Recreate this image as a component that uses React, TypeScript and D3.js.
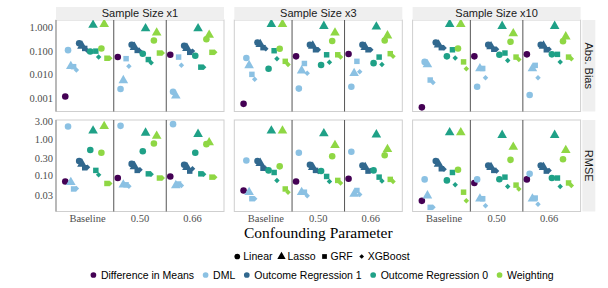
import React, { useEffect, useRef } from "react";
import * as d3 from "d3";

const WIDTH = 608;
const HEIGHT = 288;

const FONT_SERIF = "'Liberation Serif', 'Times New Roman', serif";
const FONT_SANS = "'Liberation Sans', Arial, Helvetica, sans-serif";

const sampleSizes = ["Sample Size x1", "Sample Size x3", "Sample Size x10"];
const metrics = ["Abs. Bias", "RMSE"];
const confounding = ["Baseline", "0.50", "0.66"];
const methods = [
  "Difference in Means",
  "DML",
  "Outcome Regression 1",
  "Outcome Regression 0",
  "Weighting",
];
const learners = ["Linear", "Lasso", "GRF", "XGBoost"];
const methodColors = ["#440154", "#8bc1e3", "#31688e", "#1fa187", "#8fd744"];

const biasTicks = [1, 0.1, 0.01, 0.001];
const rmseTicks = [3, 1, 0.3, 0.1, 0.03];

// each row: Diff in Means, then DML / OR1 / OR0 / Weighting x (Linear, Lasso, GRF, XGBoost)
const absBiasX1 = [
  [0.0012, 0.11, 0.023, 0.022, 0.016, 0.215, 0.167, 0.13, 0.104, 0.097, 1.26, 0.1, 0.056, 0.13, 1.38, 0.05, 0.05],
  [0.056, 0.0025, 0.0058, 0.048, 0.023, 0.185, 0.147, 0.107, 0.1, 0.078, 0.91, 0.044, 0.032, 0.28, 0.6, 0.083, 0.083],
  [0.07, 0.0019, 0.0013, 0.056, 0.025, 0.167, 0.134, 0.089, 0.1, 0.064, 0.91, 0.021, 0.021, 0.32, 0.48, 0.089, 0.089],
];
const absBiasX3 = [
  [0.00059, 0.051, 0.025, 0.0104, 0.0064, 0.23, 0.195, 0.14, 0.126, 0.018, 1.38, 0.104, 0.048, 0.126, 1.38, 0.037, 0.027],
  [0.06, 0.0026, 0.015, 0.03, 0.0115, 0.185, 0.167, 0.114, 0.114, 0.026, 1.14, 0.07, 0.034, 0.27, 0.6, 0.07, 0.056],
  [0.075, 0.0031, 0.0115, 0.037, 0.0134, 0.185, 0.147, 0.114, 0.114, 0.031, 1.07, 0.056, 0.027, 0.28, 0.45, 0.078, 0.06],
];
const absBiasX10 = [
  [0.00042, 0.035, 0.027, 0.006, 0.0047, 0.23, 0.185, 0.14, 0.135, 0.06, 1.38, 0.114, 0.051, 0.13, 1.38, 0.035, 0.018],
  [0.06, 0.0031, 0.0185, 0.0185, 0.0075, 0.185, 0.157, 0.12, 0.12, 0.07, 1.14, 0.083, 0.04, 0.25, 0.56, 0.056, 0.044],
  [0.073, 0.0014, 0.0185, 0.025, 0.0075, 0.185, 0.167, 0.114, 0.12, 0.073, 1.14, 0.073, 0.035, 0.26, 0.41, 0.056, 0.048],
];
const rmseX1 = [
  [0.07, 2.16, 0.067, 0.044, 0.045, 0.25, 0.21, 0.165, 0.17, 0.5, 1.65, 0.14, 0.106, 0.42, 2.2, 0.062, 0.062],
  [0.087, 2.25, 0.057, 0.057, 0.052, 0.21, 0.18, 0.14, 0.145, 0.46, 1.45, 0.113, 0.11, 0.75, 1.2, 0.087, 0.087],
  [0.096, 2.5, 0.055, 0.06, 0.055, 0.2, 0.17, 0.134, 0.155, 0.42, 1.34, 0.113, 0.11, 0.72, 0.8, 0.092, 0.092],
];
const rmseX3 = [
  [0.04, 0.26, 0.036, 0.024, 0.024, 0.25, 0.22, 0.16, 0.155, 0.14, 1.65, 0.123, 0.075, 0.18, 1.65, 0.044, 0.036],
  [0.07, 0.42, 0.036, 0.036, 0.029, 0.2, 0.17, 0.14, 0.13, 0.135, 1.4, 0.096, 0.07, 0.34, 0.67, 0.075, 0.064],
  [0.083, 0.45, 0.032, 0.04, 0.031, 0.19, 0.17, 0.134, 0.14, 0.14, 1.3, 0.092, 0.072, 0.36, 0.52, 0.08, 0.07],
];
const rmseX10 = [
  [0.021, 0.08, 0.029, 0.014, 0.014, 0.25, 0.21, 0.155, 0.15, 0.075, 1.48, 0.123, 0.057, 0.146, 1.48, 0.036, 0.021],
  [0.064, 0.08, 0.024, 0.024, 0.0155, 0.19, 0.17, 0.14, 0.135, 0.081, 1.26, 0.092, 0.051, 0.27, 0.6, 0.056, 0.044],
  [0.08, 0.113, 0.024, 0.025, 0.017, 0.19, 0.17, 0.134, 0.14, 0.087, 1.26, 0.087, 0.051, 0.28, 0.49, 0.064, 0.055],
];

const values = [
  [absBiasX1, absBiasX3, absBiasX10],
  [rmseX1, rmseX3, rmseX10],
];

// estimator order inside each dodge group
const estimators = [
  { method: 0, learner: 0 },
  ...methods.slice(1).flatMap((_, m) => learners.map((_, l) => ({ method: m + 1, learner: l }))),
];

function symbolPath(learner: number, scale = 1) {
  if (learner === 1) return d3.symbol(d3.symbolTriangle, 40 * scale)()!;
  if (learner === 2) return d3.symbol(d3.symbolSquare, 30 * scale)()!;
  if (learner === 3) return d3.symbol(d3.symbolSquare, 15 * scale)()!;
  return d3.symbol(d3.symbolCircle, 34 * scale)()!;
}

export default function App() {
  const ref = useRef<SVGSVGElement>(null);

  useEffect(() => {
    const svg = d3.select(ref.current);
    svg.selectAll("*").remove();

    const panelLeft = 56;
    const panelW = 168;
    const gapX = 10.3;
    const rowTops = [20, 120];
    const panelH = 91.5;
    const stripH = 13;

    const n = estimators.length;
    const dodge = 0.9;
    const offset = (i: number) => -dodge / 2 + (dodge / n) * (i + 0.5);

    metrics.forEach((metric, r) => {
      const top = rowTops[r];
      const bottom = top + panelH;

      // free y per row, 5% expansion in log space like ggplot
      const logs = values[r].flat(2).map((v) => Math.log10(v));
      const [lo, hi] = d3.extent(logs) as [number, number];
      const pad = (hi - lo) * 0.05;
      const y = d3
        .scaleLog()
        .domain([10 ** (lo - pad), 10 ** (hi + pad)])
        .range([bottom, top]);

      const ticks = r === 0 ? biasTicks : rmseTicks;
      const fmt = d3.format(r === 0 ? ".3f" : ".2f");
      svg
        .append("g")
        .selectAll("text")
        .data(ticks)
        .join("text")
        .attr("x", panelLeft - 3)
        .attr("y", (d) => y(d))
        .attr("dy", "0.35em")
        .attr("text-anchor", "end")
        .attr("font-family", FONT_SERIF)
        .attr("font-size", 10.5)
        .attr("fill", "#4d4d4d")
        .text((d) => fmt(d));

      sampleSizes.forEach((size, c) => {
        const left = panelLeft + c * (panelW + gapX);
        const x = d3.scaleLinear().domain([0.4, 3.6]).range([left, left + panelW]);
        const g = svg.append("g");

        g.append("rect")
          .attr("x", left)
          .attr("y", top)
          .attr("width", panelW)
          .attr("height", panelH)
          .attr("fill", "white")
          .attr("stroke", "#cfcfcf")
          .attr("stroke-width", 1);

        if (c === 0) {
          g.append("line")
            .attr("x1", left)
            .attr("x2", left)
            .attr("y1", top)
            .attr("y2", bottom)
            .attr("stroke", "#9a9a9a")
            .attr("stroke-width", 1.2);
        }

        // separators between confounding levels
        g.selectAll("line.sep")
          .data([1.5, 2.5])
          .join("line")
          .attr("class", "sep")
          .attr("x1", (d) => x(d))
          .attr("x2", (d) => x(d))
          .attr("y1", top)
          .attr("y2", bottom)
          .attr("stroke", "#555")
          .attr("stroke-width", 1);

        const pts = values[r][c].flatMap((row, k) =>
          row.map((v, i) => ({ k, i, v, ...estimators[i] }))
        );

        g.selectAll("path.pt")
          .data(pts)
          .join("path")
          .attr("class", "pt")
          .attr("d", (d) => symbolPath(d.learner))
          .attr(
            "transform",
            (d) =>
              `translate(${x(d.k + 1 + offset(d.i))},${y(d.v)})` +
              (d.learner === 3 ? " rotate(45)" : "")
          )
          .attr("fill", (d) => methodColors[d.method]);

        if (r === 0) {
          svg
            .append("rect")
            .attr("x", left)
            .attr("y", top - stripH)
            .attr("width", panelW)
            .attr("height", stripH)
            .attr("fill", "#efefef");
          svg
            .append("text")
            .attr("x", left + panelW / 2)
            .attr("y", top - stripH / 2)
            .attr("dy", "0.35em")
            .attr("text-anchor", "middle")
            .attr("font-family", FONT_SANS)
            .attr("font-size", 11)
            .attr("fill", "#1a1a1a")
            .text(size);
        }

        if (r === 1) {
          svg
            .append("g")
            .selectAll("text")
            .data(confounding)
            .join("text")
            .attr("x", (_, k) => x(k + 1))
            .attr("y", bottom + 7)
            .attr("dy", "0.35em")
            .attr("text-anchor", "middle")
            .attr("font-family", FONT_SERIF)
            .attr("font-size", 10.5)
            .attr("fill", "#4d4d4d")
            .text((d) => d);
        }
      });

      // row strip on the right
      const stripX = panelLeft + 3 * panelW + 2 * gapX + 1.7;
      svg
        .append("rect")
        .attr("x", stripX)
        .attr("y", top)
        .attr("width", stripH)
        .attr("height", panelH)
        .attr("fill", "#efefef");
      svg
        .append("text")
        .attr("transform", `translate(${stripX + stripH / 2},${top + panelH / 2}) rotate(90)`)
        .attr("dy", "0.35em")
        .attr("text-anchor", "middle")
        .attr("font-family", FONT_SANS)
        .attr("font-size", 11)
        .attr("fill", "#1a1a1a")
        .text(metric);
    });

    const centerX = panelLeft + (3 * panelW + 2 * gapX) / 2;

    svg
      .append("text")
      .attr("x", centerX)
      .attr("y", 238)
      .attr("text-anchor", "middle")
      .attr("font-family", FONT_SERIF)
      .attr("font-size", 15.5)
      .attr("fill", "black")
      .text("Confounding Parameter");

    // legends, laid out from measured text widths and centred
    const legendRow = (
      items: { label: string; path: string; rot: boolean; color: string }[],
      cy: number,
      textGap: number,
      itemGap: number
    ) => {
      const g = svg.append("g");
      let cursor = 0;
      items.forEach((it) => {
        g.append("path")
          .attr("d", it.path)
          .attr("transform", `translate(${cursor + 3},${cy})` + (it.rot ? " rotate(45)" : ""))
          .attr("fill", it.color);
        const t = g
          .append("text")
          .attr("x", cursor + textGap)
          .attr("y", cy)
          .attr("dy", "0.35em")
          .attr("font-family", FONT_SANS)
          .attr("font-size", 10.5)
          .attr("fill", "black")
          .text(it.label);
        const w = (t.node() as SVGTextElement).getComputedTextLength();
        cursor += textGap + w + itemGap;
      });
      const total = cursor - itemGap;
      g.attr("transform", `translate(${322 - total / 2},0)`);
    };

    legendRow(
      learners.map((l, i) => ({
        label: l,
        path: symbolPath(i, 0.75),
        rot: i === 3,
        color: "black",
      })),
      256.5,
      9,
      6
    );
    legendRow(
      methods.map((m, i) => ({
        label: m,
        path: symbolPath(0, 0.75),
        rot: false,
        color: methodColors[i],
      })),
      275,
      10.5,
      8.5
    );
  }, []);

  return (
    <svg
      ref={ref}
      width={WIDTH}
      height={HEIGHT}
      style={{ position: "absolute", left: 0, top: 0, background: "white" }}
    />
  );
}
